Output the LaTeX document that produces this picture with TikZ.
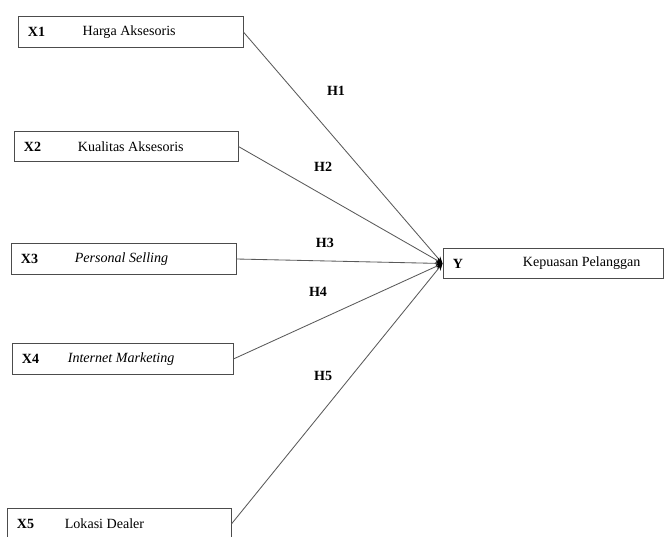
\documentclass[tikz,border=0pt]{standalone}
\usepackage{fontspec}
\setmainfont{Liberation Serif}
\usetikzlibrary{arrows.meta}
\begin{document}
\begin{tikzpicture}[every node/.style={font=\fontsize{10}{12}\selectfont},
  varbox/.style={draw=black!70,line width=0.6pt,minimum height=0.76cm,inner sep=0pt},
  varid/.style={anchor=west,font=\fontsize{10}{12}\selectfont\bfseries,inner sep=0pt},
  vartxt/.style={anchor=west,inner sep=0pt},
  hyp/.style={font=\fontsize{10}{12}\selectfont\bfseries,inner sep=1pt},
  link/.style={draw=black!65,line width=0.6pt,-{Stealth[length=5pt,width=4pt,black]}}]
\useasboundingbox (0,0) rectangle (16.625,-13.425);
\node[varbox,minimum width=5.625cm] (x1) at (3.2625,-0.8) {};
\node[varid] (x1id) at ([xshift=0.25cm]x1.west) {X1};
\node[vartxt] (x1tx) at ([xshift=1.62cm]x1.west) {Harga Aksesoris};
\node[varbox,minimum width=5.6cm] (x2) at (3.15,-3.6625) {};
\node[varid] (x2id) at ([xshift=0.25cm]x2.west) {X2};
\node[vartxt] (x2tx) at ([xshift=1.6cm]x2.west) {Kualitas Aksesoris};
\node[varbox,minimum width=5.625cm] (x3) at (3.0875,-6.475) {};
\node[varid] (x3id) at ([xshift=0.25cm]x3.west) {X3};
\node[vartxt] (x3tx) at ([xshift=1.6cm]x3.west) {\itshape Personal Selling};
\node[varbox,minimum width=5.525cm] (x4) at (3.0625,-8.975) {};
\node[varid] (x4id) at ([xshift=0.25cm]x4.west) {X4};
\node[vartxt] (x4tx) at ([xshift=1.4cm]x4.west) {\itshape Internet Marketing};
\node[varbox,minimum width=5.6cm] (x5) at (2.975,-13.1) {};
\node[varid] (x5id) at ([xshift=0.25cm]x5.west) {X5};
\node[vartxt] (x5tx) at ([xshift=1.45cm]x5.west) {Lokasi Dealer};
\node[varbox,minimum width=5.5cm] (y) at (13.825,-6.5875) {};
\node[varid] (yid) at ([xshift=0.25cm]y.west) {Y};
\node[vartxt] (ytx) at ([xshift=2cm]y.west) {Kepuasan Pelanggan};
% hypotheses
\draw[link] (x1.east) -- (y.west);
\draw[link] (x2.east) -- (y.west);
\draw[link] (x3.east) -- (y.west);
\draw[link] (x4.east) -- (y.west);
\draw[link] (x5.east) -- (y.west);
\node[hyp] (h1) at (8.4,-2.28) {H1};
\node[hyp] (h2) at (8.08,-4.17) {H2};
\node[hyp] (h3) at (8.12,-6.07) {H3};
\node[hyp] (h4) at (7.95,-7.3) {H4};
\node[hyp] (h5) at (8.08,-9.4) {H5};
\end{tikzpicture}
\end{document}
